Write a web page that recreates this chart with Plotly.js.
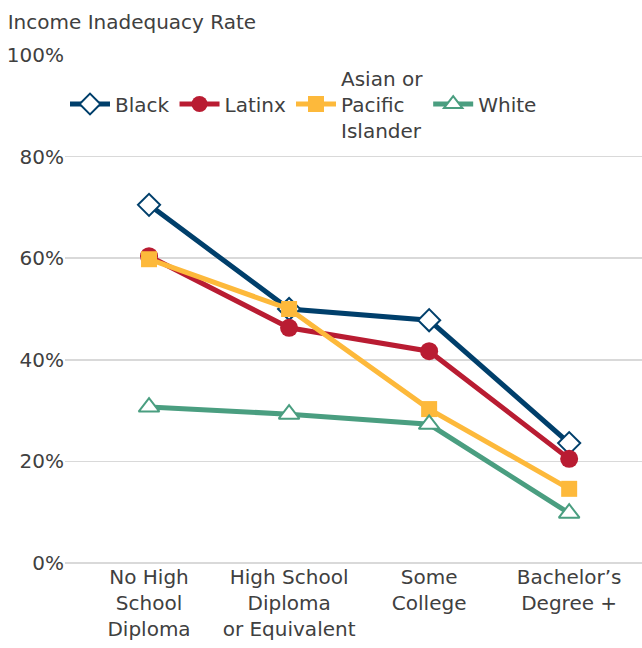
<!DOCTYPE html>
<html>
<head>
<meta charset="utf-8">
<script src="https://cdn.plot.ly/plotly-3.0.1.min.js"></script>
<style>html,body{margin:0;padding:0;background:#fff}#chart{width:642px;height:648px}</style>
</head>
<body>
<div id="chart"></div>
<script>
const categories = ["No High<br>School<br>Diploma", "High School<br>Diploma<br>or Equivalent", "Some<br>College", "Bachelor’s<br>Degree +"];
const seriesNames = [" <br>Black<br> ", " <br>Latinx<br> ", "Asian or<br>Pacific<br>Islander", " <br>White<br> "];
const black = [70.5, 50.0, 47.8, 23.6];
const latinx = [60.4, 46.3, 41.7, 20.5];
const asianPI = [59.8, 50.0, 30.3, 14.6];
const white = [30.7, 29.3, 27.3, 9.8];
const yTicks = [0, 20, 40, 60, 80, 100];
const yTickText = ["0%", "20%", "40%", "60%", "80%", "100%"];

const xIdx = categories.map((c, i) => i);
const font = "Century Gothic, DejaVu Sans, sans-serif";

const specs = [
  {name: seriesNames[0], y: black, color: "#003f6b", symbol: "diamond", size: 17, open: true},
  {name: seriesNames[1], y: latinx, color: "#b91c32", symbol: "circle", size: 18},
  {name: seriesNames[2], y: asianPI, color: "#fdb93b", symbol: "square", size: 16},
  {name: seriesNames[3], y: white, color: "#4a9e80", symbol: "triangle-up", size: 18, open: true}
];
const traces = specs.map(s => ({
  type: "scatter", mode: "lines+markers", name: s.name, x: xIdx, y: s.y,
  line: {color: s.color, width: 5},
  marker: {symbol: s.symbol, size: s.size, color: s.open ? "#ffffff" : s.color,
           line: {color: s.color, width: s.open ? 2 : 0}}
}));

const layout = {
  width: 642, height: 648,
  margin: {l: 65, r: 0, t: 55, b: 85},
  paper_bgcolor: "#ffffff", plot_bgcolor: "#ffffff",
  font: {family: font, size: 20, color: "#404040"},
  title: {text: "Income Inadequacy Rate", x: 0.012, xref: "container", xanchor: "left",
          y: 0.966, yref: "container", yanchor: "middle",
          font: {family: font, size: 20, color: "#404040"}},
  showlegend: true,
  legend: {orientation: "h", x: 0.0, xanchor: "left", y: 0.9035, yanchor: "middle",
           font: {family: font, size: 20, color: "#404040"}, bgcolor: "rgba(0,0,0,0)",
           itemwidth: 40, tracegroupgap: 0, valign: "middle"},
  xaxis: {tickmode: "array", tickvals: xIdx, ticktext: categories, range: [-0.6, 3.52],
          showgrid: false, zeroline: false, showline: false, ticks: "",
          tickfont: {family: font, size: 20, color: "#404040"}, fixedrange: true},
  yaxis: {range: [0, 100], tickmode: "array", tickvals: yTicks, ticktext: yTickText, showgrid: true,
          gridcolor: "#d9d9d9", gridwidth: 1.5, zeroline: true, zerolinecolor: "#d9d9d9",
          zerolinewidth: 1.5, showline: false, ticks: "",
          tickfont: {family: font, size: 20, color: "#404040"}, fixedrange: true}
};

Plotly.newPlot("chart", traces, layout, {displayModeBar: false, staticPlot: true});
</script>
</body>
</html>
